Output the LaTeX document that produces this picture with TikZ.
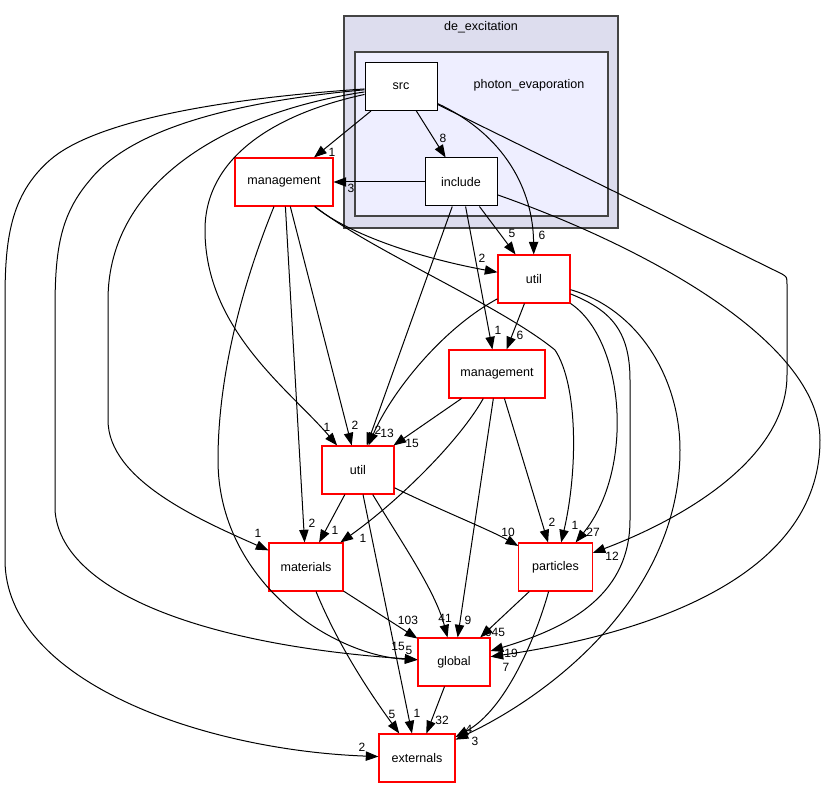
\documentclass[tikz,border=0pt]{standalone}
\usepackage{fontspec}
\setmainfont{Liberation Sans}
\usetikzlibrary{arrows.meta}
\definecolor{outerfill}{HTML}{DDDDEE}
\definecolor{innerfill}{HTML}{EEEEFF}
\definecolor{clusterline}{HTML}{444444}
\definecolor{extred}{HTML}{FF0000}

\begin{document}
\begin{tikzpicture}[x=0.75pt, y=-0.75pt, font=\fontsize{9.4}{11}\selectfont,
    dirbox/.style={draw, fill=white, line width=0.75pt, minimum width=54pt, minimum height=36pt, inner sep=0pt},
    extbox/.style={dirbox, draw=extred, line width=0.8pt},
    dep/.style={-{Triangle[length=9.5pt,width=7pt]}, line width=0.75pt},
    num/.style={inner sep=0pt, font=\fontsize{9}{10}\selectfont}]
  \useasboundingbox (0,0) rectangle (826,788);
  \draw[clusterline, fill=outerfill, line width=1.5pt] (344,16) rectangle (618,228);
  \draw[clusterline, fill=innerfill, line width=1.2pt] (355,52) rectangle (608,216);
  \node (deexc) at (481,27) {de\_excitation};
  \node (photon) at (529,85) {photon\_evaporation};

  \node[dirbox] (src) at (401,86.5) {src};
  \node[dirbox] (include) at (461,182) {include};
  \node[extbox, minimum width=73.5pt] (mgmt1) at (284,182) {management};
  \node[extbox] (util1) at (534,279) {util};
  \node[extbox, minimum width=72pt] (mgmt2) at (497,374) {management};
  \node[extbox] (util2) at (358,470) {util};
  \node[extbox, minimum width=55.5pt] (materials) at (306,567) {materials};
  \node[extbox, minimum width=55pt] (particles) at (555.5,567) {particles};
  \node[extbox] (global) at (454,662) {global};
  \node[extbox, minimum width=57pt] (externals) at (417,758) {externals};

  % src
  \draw[dep] (src) -- (mgmt1) node[num, at={(332,152)}] (src-mgmt1) {1};
  \draw[dep] (src) -- (include) node[num, at={(443,138)}] (src-include) {8};
  \draw[dep] (src) .. controls (505,135) and (533,190) .. (util1) node[num, at={(542,235)}] (src-util1) {6};
  \draw[dep] (src) -- (782,274) .. controls (787,277) .. (787,285) -- (787,375) .. controls (787,460) and (680,520) .. (particles) node[num, at={(612,556)}] (src-particles) {12};
  \draw[dep] (src) .. controls (200,100) and (90,125) .. (50,160) .. controls (10,195) and (5,240) .. (5,300) -- (5,560) .. controls (5,680) and (200,750) .. (externals) node[num, at={(362,747)}] (src-externals) {2};
  \draw[dep] (src) .. controls (230,102) and (130,130) .. (90,180) .. controls (60,215) and (55,250) .. (55,310) -- (55,510) .. controls (60,590) and (200,645) .. (global) node[num, at={(398,646)}] (src-global) {15};
  \draw[dep] (src) .. controls (230,112) and (108,180) .. (108,300) -- (108,420) .. controls (108,480) and (200,520) .. (materials) node[num, at={(258,533)}] (src-materials) {1};
  \draw[dep] (src) .. controls (270,115) and (205,160) .. (205,230) .. controls (205,330) and (290,390) .. (util2) node[num, at={(327,427)}] (src-util2) {1};

  % include
  \draw[dep] (include) -- (mgmt1) node[num, at={(351,188)}] (include-mgmt1) {3};
  \draw[dep] (include) -- (util1) node[num, at={(512,233)}] (include-util1) {5};
  \draw[dep] (include) -- (mgmt2) node[num, at={(498,330)}] (include-mgmt2) {1};
  \draw[dep] (include) -- (util2) node[num, at={(378,430)}] (include-util2) {2};
  \draw[dep] (include) .. controls (640,245) and (820,340) .. (820,440) .. controls (820,580) and (640,635) .. (global) node[num, at={(506,667)}] (include-global) {7};

  % management
  \draw[dep] (mgmt1) .. controls (350,235) and (420,258) .. (util1) node[num, at={(482,258)}] (mgmt1-util1) {2};
  \draw[dep] (mgmt1) .. controls (370,250) and (500,305) .. (555,350) .. controls (578,385) and (578,470) .. (particles) node[num, at={(575,525)}] (mgmt1-particles) {1};
  \draw[dep] (mgmt1) -- (util2) node[num, at={(355,425)}] (mgmt1-util2) {2};
  \draw[dep] (mgmt1) -- (materials) node[num, at={(312,523)}] (mgmt1-materials) {2};
  \draw[dep] (mgmt1) .. controls (240,290) and (218,380) .. (218,460) .. controls (218,580) and (330,655) .. (global) node[num, at={(409,650)}] (mgmt1-global) {5};

  % util
  \draw[dep] (util1) -- (mgmt2) node[num, at={(520,335)}] (util1-mgmt2) {6};
  \draw[dep] (util1) .. controls (440,330) and (390,395) .. (util2) node[num, at={(387,433)}] (util1-util2) {13};
  \draw[dep] (util1) .. controls (625,340) and (635,470) .. (particles) node[num, at={(593,532)}] (util1-particles) {27};
  \draw[dep] (util1) .. controls (610,310) and (630,330) .. (630,380) -- (630,520) .. controls (630,600) and (560,630) .. (global) node[num, at={(511,653)}] (util1-global) {19};
  \draw[dep] (util1) .. controls (640,310) and (680,380) .. (680,450) .. controls (680,590) and (560,690) .. (externals) node[num, at={(475,741)}] (util1-externals) {3};

  % management
  \draw[dep] (mgmt2) -- (util2) node[num, at={(412,443)}] (mgmt2-util2) {15};
  \draw[dep] (mgmt2) .. controls (460,440) and (400,500) .. (materials) node[num, at={(363,538)}] (mgmt2-materials) {1};
  \draw[dep] (mgmt2) -- (global) node[num, at={(468,620)}] (mgmt2-global) {9};
  \draw[dep] (mgmt2) -- (particles) node[num, at={(552,522)}] (mgmt2-particles) {2};

  % util
  \draw[dep] (util2) -- (materials) node[num, at={(335,530)}] (util2-materials) {1};
  \draw[dep] (util2) .. controls (400,540) and (435,590) .. (global) node[num, at={(445,618)}] (util2-global) {41};
  \draw[dep] (util2) .. controls (440,510) and (490,530) .. (particles) node[num, at={(508,532)}] (util2-particles) {10};
  \draw[dep] (util2) -- (externals) node[num, at={(417,713)}] (util2-externals) {1};

  % materials, particles, global
  \draw[dep] (materials) -- (global) node[num, at={(408,620)}] (materials-global) {103};
  \draw[dep] (materials) .. controls (340,650) and (375,700) .. (externals) node[num, at={(392,714)}] (materials-externals) {5};
  \draw[dep] (particles) -- (global) node[num, at={(495,632)}] (particles-global) {645};
  \draw[dep] (particles) .. controls (535,640) and (505,710) .. (externals) node[num, at={(469,729)}] (particles-externals) {4};
  \draw[dep] (global) -- (externals) node[num, at={(442,720)}] (global-externals) {32};
\end{tikzpicture}
\end{document}
